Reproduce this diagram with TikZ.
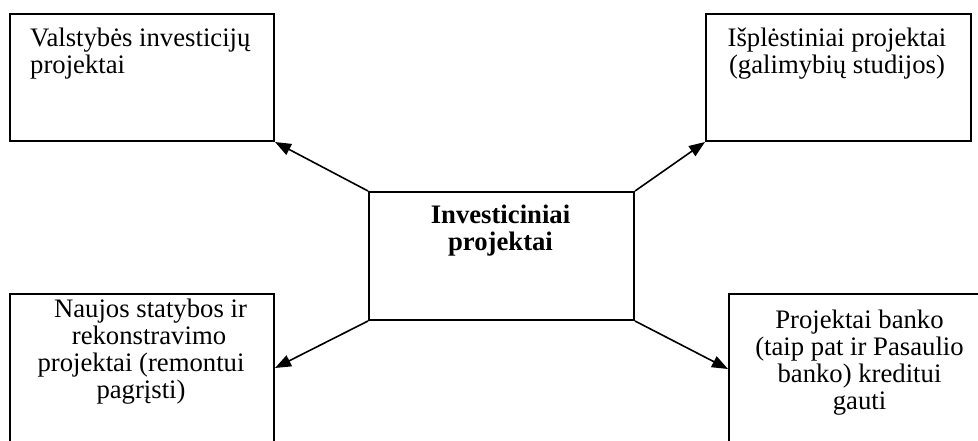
\documentclass[tikz,border=0pt]{standalone}
\usepackage{fontspec}
\setmainfont{Liberation Serif}
\usetikzlibrary{arrows.meta}
\begin{document}
\begin{tikzpicture}[x=1pt,y=-1pt,
  box/.style={draw, line width=2pt, inner sep=0pt, anchor=north west},
  txt/.style={inner sep=0pt, font=\fontsize{26.7}{27}\selectfont},
  conn/.style={line width=1.6pt, -{Triangle[length=16pt,width=12pt]}}]
\clip (0,0) rectangle (978,441);
\node[box, minimum width=264pt, minimum height=127pt] (tl) at (9,13) {};
\node[box, minimum width=265pt, minimum height=127pt] (tr) at (705,13) {};
\node[box, minimum width=265pt, minimum height=128pt] (c) at (368,191) {};
\node[box, minimum width=264pt, minimum height=170pt] (bl) at (9,293) {};
\node[box, minimum width=264pt, minimum height=170pt] (br) at (728,293) {};
\node[txt, anchor=base west, align=left] (tlt) at (30,73.7) {Valstybės investicijų\\projektai};
\node[txt, anchor=base, align=center] (trt) at (837,74) {Išplėstiniai projektai\\(galimybių studijos)};
\node[txt, anchor=base, align=center, font=\fontsize{26.7}{27}\selectfont\bfseries] (ct) at (500.5,250.3) {Investiciniai\\projektai};
\node[txt, anchor=base, align=center] (blt) at (141,398) {\hspace*{19pt}Naujos statybos ir\\\hspace*{16pt}rekonstravimo\\projektai (remontui\\pagrįsti)};
\node[txt, anchor=base, align=center] (brt) at (859.5,409) {Projektai banko\\(taip pat ir Pasaulio\\banko) kreditui\\gauti};
\coordinate (blin) at ([yshift=-75pt]bl.north east);
\coordinate (brin) at ([yshift=-76pt]br.north west);
\draw[conn] (c.north west) -- (tl.south east);
\draw[conn] (c.north east) -- (tr.south west);
\draw[conn] (c.south west) -- (blin);
\draw[conn] (c.south east) -- (brin);
\end{tikzpicture}
\end{document}
